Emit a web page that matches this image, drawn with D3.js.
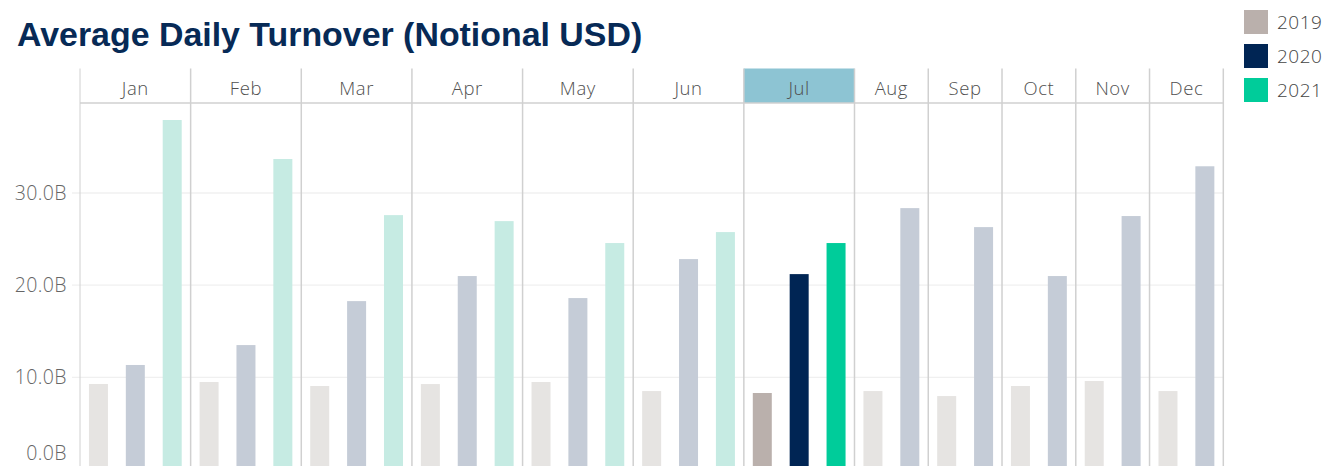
<!DOCTYPE html>
<html>
<head>
<meta charset="utf-8">
<script src="https://cdn.jsdelivr.net/npm/d3@7"></script>
<style>
    body { margin: 0; background: #fff; }
</style>
</head>
<body>
<div id="bar_plot"></div>
<script>
// data (billions of USD)
let months = ["Jan", "Feb", "Mar", "Apr", "May", "Jun", "Jul", "Aug", "Sep", "Oct", "Nov", "Dec"];
let years = ["2019", "2020", "2021"];
let values_2019 = [9.28, 9.49, 9.06, 9.27, 9.49, 8.51, 8.30, 8.51, 7.97, 9.06, 9.60, 8.51];
let values_2020 = [11.34, 13.5, 18.27, 20.99, 18.6, 22.83, 21.2, 28.36, 26.3, 20.99, 27.5, 32.9];
let values_2021 = [37.92, 33.69, 27.6, 26.95, 24.57, 25.76, 24.57, null, null, null, null, null];
let y_ticks = [0, 10, 20, 30];
let selected_month = "Jul";

let colors = {"2019": "#bab0ac", "2020": "#002554", "2021": "#00cc9a"};
let faded = {"2019": "#e6e4e2", "2020": "#c5ccd7", "2021": "#c6ebe3"};

function draw_chart() {
    let width = 1330,
        height = 466,
        plot_left = 80,
        plot_right = 1223.3,
        header_top = 68.5,
        header_bottom = 103;

    let series = {"2019": values_2019, "2020": values_2020, "2021": values_2021};

    // one slot per month/year pair that has a value
    let slots = [];
    months.forEach(function(m, i) {
        years.forEach(function(yr) {
            let v = series[yr][i];
            if (v !== null) {
                slots.push({key: m + "-" + yr, month: m, year: yr, value: v});
            }
        });
    });

    let svg = d3.select("#bar_plot")
        .append("svg")
        .attr("width", width)
        .attr("height", height);

    // title
    svg.append("text")
        .attr("x", 17)
        .attr("y", 46)
        .attr("font-family", "'Liberation Sans', Arial, sans-serif")
        .attr("font-weight", "bold")
        .attr("font-size", "33.9px")
        .attr("fill", "#072a56")
        .text("Average Daily Turnover (Notional USD)");

    let x = d3.scaleBand()
        .domain(slots.map(function(d) { return d.key; }))
        .range([plot_left, plot_right])
        .padding(0);

    let y = d3.scaleLinear()
        .domain([0, 30])
        .range([469.5, 193]);

    // pane extents per month
    let panes = months.map(function(m) {
        let s = slots.filter(function(d) { return d.month == m; });
        return {
            month: m,
            x0: x(s[0].key),
            x1: x(s[s.length - 1].key) + x.bandwidth()
        };
    });

    // gridlines
    svg.append("g")
        .selectAll("line")
        .data(y_ticks.filter(function(d) { return d > 0; }))
        .enter()
        .append("line")
        .attr("x1", 72)
        .attr("x2", plot_right)
        .attr("y1", function(d) { return y(d); })
        .attr("y2", function(d) { return y(d); })
        .attr("stroke", "#f0f0f0")
        .attr("stroke-width", 1.3);

    // header highlight for the selected month
    svg.append("g")
        .selectAll("rect")
        .data(panes.filter(function(p) { return p.month == selected_month; }))
        .enter()
        .append("rect")
        .attr("x", function(p) { return p.x0; })
        .attr("y", header_top)
        .attr("width", function(p) { return p.x1 - p.x0; })
        .attr("height", header_bottom - header_top)
        .attr("fill", "#8dc4d3");

    // bars
    let bar_w = 19;
    svg.append("g")
        .selectAll("rect")
        .data(slots)
        .enter()
        .append("rect")
        .attr("x", function(d) { return x(d.key) + (x.bandwidth() - bar_w) / 2; })
        .attr("width", bar_w)
        .attr("y", function(d) { return y(d.value); })
        .attr("height", function(d) { return y(0) - y(d.value); })
        .attr("fill", function(d) {
            return d.month == selected_month ? colors[d.year] : faded[d.year];
        });

    // pane dividers
    let dividers = panes.map(function(p) { return p.x0; });
    dividers.push(plot_right);
    svg.append("g")
        .selectAll("line")
        .data(dividers)
        .enter()
        .append("line")
        .attr("x1", function(d) { return d; })
        .attr("x2", function(d) { return d; })
        .attr("y1", header_top)
        .attr("y2", height)
        .attr("stroke", "#d0d0d0")
        .attr("stroke-width", function(d, i) { return i == 0 ? 1 : 1.5; });

    // header bottom line
    svg.append("line")
        .attr("x1", plot_left)
        .attr("x2", plot_right)
        .attr("y1", header_bottom)
        .attr("y2", header_bottom)
        .attr("stroke", "#d0d0d0")
        .attr("stroke-width", 1.5);

    // month labels
    svg.append("g")
        .selectAll("text")
        .data(panes)
        .enter()
        .append("text")
        .attr("x", function(p) { return (p.x0 + p.x1) / 2; })
        .attr("y", 88.5)
        .attr("dy", "0.35em")
        .attr("text-anchor", "middle")
        .attr("font-family", "'Open Sans', sans-serif")
        .attr("font-weight", 300)
        .attr("font-size", "18.5px")
        .attr("letter-spacing", "0.6px")
        .attr("fill", "#4f4f4f")
        .text(function(p) { return p.month; });

    // y axis
    let y_axis = svg.append("g")
        .attr("transform", "translate(70,0)")
        .call(d3.axisLeft(y)
            .tickValues(y_ticks)
            .tickFormat(function(d) { return d.toFixed(1) + "B"; })
            .tickSize(0)
            .tickPadding(3));
    y_axis.select(".domain").remove();
    y_axis.selectAll("text")
        .attr("font-family", "'Open Sans', sans-serif")
        .attr("font-weight", 300)
        .attr("font-size", "19.5px")
        .attr("letter-spacing", "0.4px")
        .attr("fill", "#666");
    // zero label is pushed up to stay inside the view
    y_axis.selectAll(".tick")
        .filter(function(d) { return d == 0; })
        .select("text")
        .attr("dy", "-0.52em");

    // legend
    let legend = svg.append("g")
        .selectAll("g")
        .data(years)
        .enter()
        .append("g")
        .attr("transform", function(d, i) { return "translate(1244," + (10 + i * 34) + ")"; });
    legend.append("rect")
        .attr("width", 24)
        .attr("height", 24)
        .attr("fill", function(d) { return colors[d]; });
    legend.append("text")
        .attr("x", 33)
        .attr("y", 12)
        .attr("dy", "0.36em")
        .attr("font-family", "'Open Sans', sans-serif")
        .attr("font-weight", 300)
        .attr("font-size", "19px")
        .attr("letter-spacing", "0.5px")
        .attr("fill", "#444")
        .text(function(d) { return d; });
}

draw_chart();
</script>
</body>
</html>
